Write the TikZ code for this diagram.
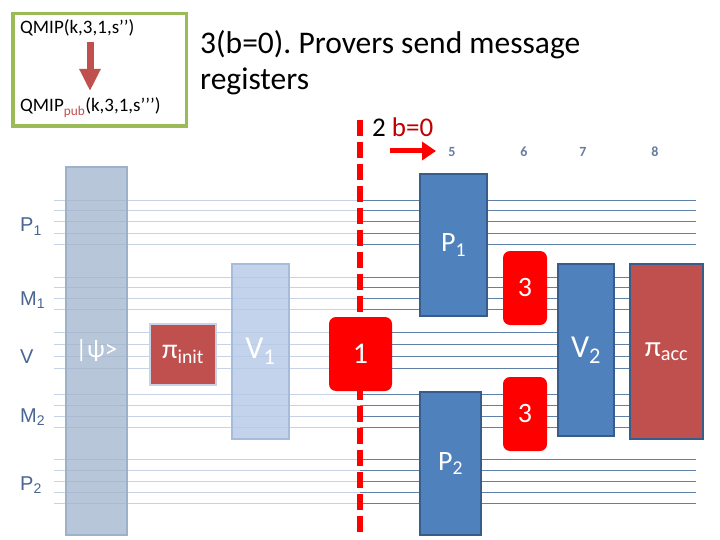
\documentclass[tikz,border=0pt]{standalone}
\usepackage{fontspec}
\setmainfont{Carlito}
\newfontfamily\labelfont{Liberation Sans}
\usepackage{tikz}
\usetikzlibrary{arrows.meta,positioning}
\frenchspacing

\definecolor{provblue}{HTML}{4F81BD}
\definecolor{provedge}{HTML}{385D8A}
\definecolor{projred}{HTML}{C0504D}
\definecolor{msgred}{HTML}{FF0000}
\definecolor{darkred}{HTML}{C00000}
\definecolor{framegreen}{HTML}{9BBB59}
\definecolor{slate}{HTML}{4A6690}
\definecolor{wirelight}{HTML}{C8D4E5}
\definecolor{wiredark}{HTML}{5F80A8}
\definecolor{psigrey}{HTML}{A0B3CB}
\definecolor{psiedge}{HTML}{9DB1CB}
\definecolor{vonefill}{HTML}{B3C9E7}
\definecolor{voneedge}{HTML}{A6BCDB}

\begin{document}
\begin{tikzpicture}[x=1pt, y=-1pt,
    box/.style={draw, line width=2pt, inner sep=0pt, text=white, align=center},
    prover/.style={box, fill=provblue, draw=provedge, font=\fontsize{28}{30}\selectfont},
    proj/.style={box, fill=projred, font=\fontsize{29}{31}\selectfont},
    msg/.style={fill=msgred, rounded corners=7pt, inner sep=0pt, text=white},
    wirelabel/.style={text=slate, font=\labelfont\fontsize{20}{22}\selectfont, anchor=base west, inner sep=0pt},
    stepnum/.style={text=slate!85, font=\bfseries\fontsize{14}{16}\selectfont, inner sep=0pt},
    arrow/.style={-{Triangle[width=18pt,length=14pt]}, line width=5pt, msgred}
  ]
    \path[fill=white, use as bounding box] (0,0) rectangle (720,540);

    % top left frame
    \node[draw=framegreen, line width=3.5pt, minimum width=173.5pt, minimum height=112.5pt] (frame) at (99.5,70) {};
    \node[anchor=base west, inner sep=0pt, font=\fontsize{19}{21}\selectfont] (qmip) at (20,34) {QMIP(k,3,1,s’’)};
    \node[anchor=base west, inner sep=0pt, font=\fontsize{19}{21}\selectfont] (qmippub) at (20,112) {QMIP\textsubscript{\textcolor{projred}{pub}}(k,3,1,s’’’)};
    \coordinate (arrtop) at (90,42);
    \coordinate (arrbot) at (90,91);
    \draw[-{Triangle[width=20pt,length=22pt]}, line width=7pt, projred] (arrtop) -- (arrbot);

    % title
    \node[anchor=north west, align=left, inner sep=0pt, font=\fontsize{31.5}{36}\selectfont] (title) at (200,30) {3(b=0). Provers send message\\registers};
    \node[anchor=base west, inner sep=0pt, font=\fontsize{27}{29}\selectfont] (bzero) at (372,137) {2 \textcolor{darkred}{b=0}};
    \coordinate (bstart) at (390,151);
    \coordinate (bend) at (436,151);
    \draw[arrow] (bstart) -- (bend);
    \foreach \n/\x in {5/452,6/524,7/583,8/655}
      \node[stepnum] (step\n) at (\x,152) {\n};

    % wires
    \foreach \y in {201,211,222,233,244, 277,287,298,309, 332,344,356,368, 394,405,416,427, 459,470,481,492,503} {
      \draw[wirelight, line width=1pt] (54,\y) -- (360,\y);
      \draw[wiredark, line width=1pt] (360,\y) -- (696,\y);
    }

    % registers
    \node[wirelabel] (lblP1) at (20,232) {P\textsubscript{1}};
    \node[wirelabel] (lblM1) at (20,305) {M\textsubscript{1}};
    \node[wirelabel] (lblV) at (20,363) {V};
    \node[wirelabel] (lblM2) at (20,422) {M\textsubscript{2}};
    \node[wirelabel] (lblP2) at (20,490) {P\textsubscript{2}};

    % gates before the cut
    \node[box, fill=psigrey, fill opacity=0.75, text opacity=1, draw=psiedge, minimum width=61pt, minimum height=368pt, font=\fontsize{25}{27}\selectfont] (psi) at (96.5,351) {\raisebox{-7pt}{|ψ>}};
    \node[proj, draw=wirelight, minimum width=66pt, minimum height=61pt, font=\fontsize{28}{30}\selectfont] (pinit) at (183,354.5) {π\textsubscript{init}};
    \node[box, fill=vonefill, fill opacity=0.8, text opacity=1, draw=voneedge, minimum width=57pt, minimum height=175pt, font=\fontsize{32}{34}\selectfont] (vone) at (260.5,351.5) {V\textsubscript{1}};

    % cut
    \coordinate (cuttop) at (360,120);
    \coordinate (cutbot) at (360,535);
    \draw[msgred, line width=6pt, dash pattern=on 16pt off 6pt] (cuttop) -- (cutbot);
    \node[msg, minimum width=63pt, minimum height=74pt, font=\fontsize{30}{32}\selectfont] (one) at (360.5,354) {1};

    % gates after the cut
    \node[prover, minimum width=67pt, minimum height=142pt] (pone) at (453.5,245) {P\textsubscript{1}};
    \node[prover, minimum width=61pt, minimum height=143pt] (ptwo) at (450.5,463.5) {P\textsubscript{2}};
    \node[msg, minimum width=44pt, minimum height=74pt, font=\fontsize{28}{30}\selectfont] (mup) at (525,288) {3};
    \node[msg, minimum width=44pt, minimum height=74pt, font=\fontsize{28}{30}\selectfont] (mlow) at (525,414) {3};
    \node[prover, minimum width=56pt, minimum height=172pt, font=\fontsize{32}{34}\selectfont] (vtwo) at (586,350) {V\textsubscript{2}};
    \node[proj, draw=provedge, minimum width=73pt, minimum height=175pt] (pacc) at (666.5,351.5) {π\textsubscript{acc}};
  \end{tikzpicture}
\end{document}
